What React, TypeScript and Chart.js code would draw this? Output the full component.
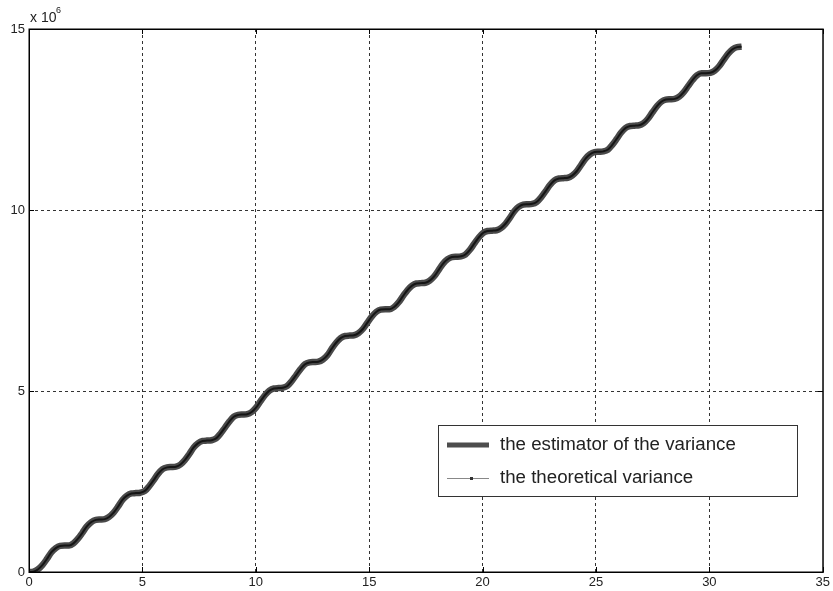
import React, { useEffect, useRef } from "react";
import { Chart, registerables } from "chart.js";

Chart.register(...registerables);

// time axis samples (x)
const timeValues: number[] = [
  0.0, 0.2, 0.39, 0.59, 0.79, 0.98, 1.18, 1.37,
  1.57, 1.77, 1.96, 2.16, 2.36, 2.55, 2.75, 2.95,
  3.14, 3.34, 3.53, 3.73, 3.93, 4.12, 4.32, 4.52,
  4.71, 4.91, 5.11, 5.3, 5.5, 5.69, 5.89, 6.09,
  6.28, 6.48, 6.68, 6.87, 7.07, 7.26, 7.46, 7.66,
  7.85, 8.05, 8.25, 8.44, 8.64, 8.84, 9.03, 9.23,
  9.42, 9.62, 9.82, 10.01, 10.21, 10.41, 10.6, 10.8,
  11.0, 11.19, 11.39, 11.58, 11.78, 11.98, 12.17, 12.37,
  12.57, 12.76, 12.96, 13.16, 13.35, 13.55, 13.74, 13.94,
  14.14, 14.33, 14.53, 14.73, 14.92, 15.12, 15.32, 15.51,
  15.71, 15.9, 16.1, 16.3, 16.49, 16.69, 16.89, 17.08,
  17.28, 17.48, 17.67, 17.87, 18.06, 18.26, 18.46, 18.65,
  18.85, 19.05, 19.24, 19.44, 19.63, 19.83, 20.03, 20.22,
  20.42, 20.62, 20.81, 21.01, 21.21, 21.4, 21.6, 21.79,
  21.99, 22.19, 22.38, 22.58, 22.78, 22.97, 23.17, 23.37,
  23.56, 23.76, 23.95, 24.15, 24.35, 24.54, 24.74, 24.94,
  25.13, 25.33, 25.53, 25.72, 25.92, 26.11, 26.31, 26.51,
  26.7, 26.9, 27.1, 27.29, 27.49, 27.69, 27.88, 28.08,
  28.27, 28.47, 28.67, 28.86, 29.06, 29.26, 29.45, 29.65,
  29.85, 30.04, 30.24, 30.43, 30.63, 30.83, 31.02, 31.22,
  31.42,
];

// theoretical variance (x 10^6)
const theoreticalVariance: number[] = [
  0.0, 0.01, 0.07, 0.19, 0.36, 0.54, 0.66, 0.72,
  0.73, 0.73, 0.79, 0.92, 1.09, 1.26, 1.38, 1.44,
  1.45, 1.46, 1.52, 1.64, 1.81, 1.99, 2.11, 2.17,
  2.18, 2.19, 2.24, 2.37, 2.54, 2.71, 2.84, 2.89,
  2.9, 2.91, 2.97, 3.09, 3.26, 3.44, 3.56, 3.62,
  3.63, 3.64, 3.69, 3.82, 3.99, 4.16, 4.29, 4.34,
  4.35, 4.36, 4.42, 4.54, 4.72, 4.89, 5.01, 5.07,
  5.08, 5.09, 5.14, 5.27, 5.44, 5.61, 5.74, 5.79,
  5.8, 5.81, 5.87, 5.99, 6.17, 6.34, 6.46, 6.52,
  6.53, 6.54, 6.6, 6.72, 6.89, 7.06, 7.19, 7.25,
  7.26, 7.26, 7.32, 7.45, 7.62, 7.79, 7.91, 7.97,
  7.98, 7.99, 8.05, 8.17, 8.34, 8.52, 8.64, 8.7,
  8.71, 8.72, 8.77, 8.9, 9.07, 9.24, 9.37, 9.42,
  9.43, 9.44, 9.5, 9.62, 9.79, 9.97, 10.09, 10.15,
  10.16, 10.17, 10.22, 10.35, 10.52, 10.69, 10.82, 10.87,
  10.88, 10.89, 10.95, 11.07, 11.25, 11.42, 11.54, 11.6,
  11.61, 11.62, 11.67, 11.8, 11.97, 12.14, 12.27, 12.32,
  12.33, 12.34, 12.4, 12.52, 12.7, 12.87, 12.99, 13.05,
  13.06, 13.07, 13.13, 13.25, 13.42, 13.59, 13.72, 13.78,
  13.78, 13.79, 13.85, 13.97, 14.15, 14.32, 14.44, 14.5,
  14.51,
];

// estimated variance (x 10^6) - follows the theory closely
const estimatedVariance: number[] = theoreticalVariance;

const xTicks: number[] = [0, 5, 10, 15, 20, 25, 30, 35];
const yTicks: number[] = [0, 5, 10, 15];

const seriesLabels: string[] = [
  "the estimator of the variance",
  "the theoretical variance",
];

const FONT = "'Liberation Sans', Arial, Helvetica, sans-serif";

const framePlugin = {
  id: "matlabFrame",
  afterDraw(chart: any) {
    const { ctx, chartArea } = chart;
    const { left, right, top, bottom } = chartArea;
    const xs = chart.scales.x;
    const ys = chart.scales.y;
    ctx.save();
    ctx.setLineDash([]);
    ctx.strokeStyle = "#000";
    ctx.lineWidth = 1.5;
    ctx.strokeRect(left + 0.25, top + 0.25, right - left, bottom - top);
    // inward ticks
    ctx.lineWidth = 1;
    const tl = 5;
    xTicks.forEach((v) => {
      const px = Math.round(xs.getPixelForValue(v)) + 0.5;
      ctx.beginPath();
      ctx.moveTo(px, bottom);
      ctx.lineTo(px, bottom - tl);
      ctx.moveTo(px, top);
      ctx.lineTo(px, top + tl);
      ctx.stroke();
    });
    yTicks.forEach((v) => {
      const py = Math.round(ys.getPixelForValue(v)) + 0.5;
      ctx.beginPath();
      ctx.moveTo(left, py);
      ctx.lineTo(left + tl, py);
      ctx.moveTo(right, py);
      ctx.lineTo(right - tl, py);
      ctx.stroke();
    });

    // exponent label
    ctx.fillStyle = "#222";
    ctx.textBaseline = "alphabetic";
    ctx.textAlign = "left";
    ctx.font = `14px ${FONT}`;
    ctx.fillText("x 10", 30, 22);
    ctx.font = `9px ${FONT}`;
    ctx.fillText("6", 56, 13);

    // legend box
    const bx = 438, by = 425, bw = 359, bh = 71;
    ctx.fillStyle = "#fff";
    ctx.fillRect(bx, by, bw, bh);
    ctx.strokeStyle = "#333";
    ctx.lineWidth = 1;
    ctx.strokeRect(bx + 0.5, by + 0.5, bw, bh);

    // row 1
    ctx.strokeStyle = "#4d4d4d";
    ctx.lineWidth = 5;
    ctx.beginPath();
    ctx.moveTo(447, 445);
    ctx.lineTo(489, 445);
    ctx.stroke();
    ctx.fillStyle = "#222";
    ctx.font = `18.7px ${FONT}`;
    ctx.textBaseline = "middle";
    ctx.fillText(seriesLabels[0], 500, 445);

    // row 2
    ctx.strokeStyle = "#888";
    ctx.lineWidth = 1;
    ctx.beginPath();
    ctx.moveTo(447, 478.5);
    ctx.lineTo(489, 478.5);
    ctx.stroke();
    ctx.fillStyle = "#333";
    ctx.fillRect(470, 477, 3, 3);
    ctx.fillStyle = "#222";
    ctx.fillText(seriesLabels[1], 500, 478);
    ctx.restore();
  },
};

export default function App() {
  const ref = useRef<HTMLCanvasElement | null>(null);

  useEffect(() => {
    if (!ref.current) return;
    const gridColor = (max: number) => (c: any) =>
      c.tick && (c.tick.value === 0 || c.tick.value === max) ? "rgba(0,0,0,0)" : "#333";
    const chart = new Chart(ref.current, {
      type: "line",
      data: {
        datasets: [
          {
            label: seriesLabels[1],
            data: timeValues.map((t, i) => ({ x: t, y: theoreticalVariance[i] })),
            borderColor: "#151515",
            borderWidth: 2,
            pointRadius: 0,
            cubicInterpolationMode: "monotone",
            order: 0,
          },
          {
            label: seriesLabels[0],
            data: timeValues.map((t, i) => ({ x: t, y: estimatedVariance[i] })),
            borderColor: "#4a4a4a",
            borderWidth: 6.5,
            pointRadius: 0,
            cubicInterpolationMode: "monotone",
            order: 1,
          },
        ],
      },
      options: {
        responsive: false,
        animation: false,
        layout: { padding: { left: 0, top: 29, right: 9, bottom: 0 } },
        plugins: { legend: { display: false }, tooltip: { enabled: false } },
        scales: {
          x: {
            type: "linear",
            min: 0,
            max: 35,
            afterBuildTicks: (s: any) => {
              s.ticks = xTicks.map((v) => ({ value: v }));
            },
            afterFit: (s: any) => {
              s.height = 19;
            },
            ticks: {
              color: "#222",
              font: { family: FONT, size: 13 },
              padding: 3,
              maxRotation: 0,
              autoSkip: false,
            },
            grid: { color: gridColor(35), lineWidth: 1, drawTicks: false },
            border: { display: false, dash: [3, 3] },
          },
          y: {
            type: "linear",
            min: 0,
            max: 15,
            afterBuildTicks: (s: any) => {
              s.ticks = yTicks.map((v) => ({ value: v }));
            },
            afterFit: (s: any) => {
              s.width = 29;
            },
            ticks: {
              color: "#222",
              font: { family: FONT, size: 13 },
              padding: 4,
              autoSkip: false,
            },
            grid: { color: gridColor(15), lineWidth: 1, drawTicks: false },
            border: { display: false, dash: [3, 3] },
          },
        },
      },
      plugins: [framePlugin],
    });
    return () => chart.destroy();
  }, []);

  return (
    <div style={{ position: "fixed", left: 0, top: 0, width: 833, height: 591, background: "#fff" }}>
      <canvas ref={ref} width={833} height={591} style={{ width: 833, height: 591 }} />
    </div>
  );
}
